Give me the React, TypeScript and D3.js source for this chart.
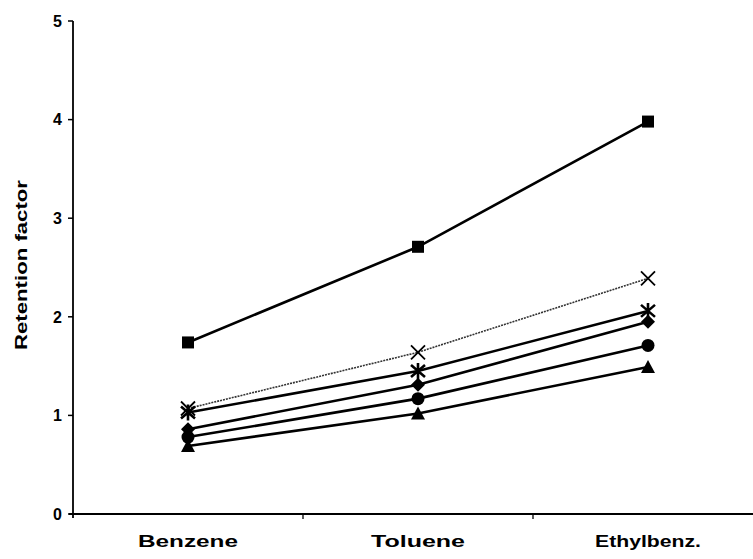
import React from "react";
import * as d3 from "d3";

const categories = ["Benzene", "Toluene", "Ethylbenz."];
const categoryLabelWidths = [100, 94, 106];
const squareSeries = [1.74, 2.71, 3.98];
const crossSeries = [1.07, 1.64, 2.39];
const asteriskSeries = [1.03, 1.45, 2.06];
const diamondSeries = [0.86, 1.31, 1.95];
const circleSeries = [0.78, 1.17, 1.71];
const triangleSeries = [0.69, 1.02, 1.49];
const yTicks = [0, 1, 2, 3, 4, 5];

type Marker = "square" | "cross" | "asterisk" | "diamond" | "circle" | "triangle";

const series: { values: number[]; marker: Marker; dotted?: boolean }[] = [
  { values: squareSeries, marker: "square" },
  { values: crossSeries, marker: "cross", dotted: true },
  { values: asteriskSeries, marker: "asterisk" },
  { values: diamondSeries, marker: "diamond" },
  { values: circleSeries, marker: "circle" },
  { values: triangleSeries, marker: "triangle" },
];

const W = 753;
const H = 559;
const left = 73;
const top = 21;
const bottom = 514;

const FONT = "'Liberation Sans', Arial, sans-serif";

function MarkerShape({ type, x, y }: { type: Marker; x: number; y: number }) {
  switch (type) {
    case "square":
      return <rect x={x - 6} y={y - 6} width={12} height={12} fill="#000" />;
    case "diamond":
      return <path d={`M${x},${y - 7}L${x + 7},${y}L${x},${y + 7}L${x - 7},${y}Z`} fill="#000" />;
    case "circle":
      return <circle cx={x} cy={y} r={6.5} fill="#000" />;
    case "triangle":
      return <path d={`M${x},${y - 7}L${x + 7},${y + 6}L${x - 7},${y + 6}Z`} fill="#000" />;
    case "cross":
      return (
        <path
          d={`M${x - 7},${y - 7}L${x + 7},${y + 7}M${x - 7},${y + 7}L${x + 7},${y - 7}`}
          stroke="#000"
          strokeWidth={1.8}
        />
      );
    case "asterisk":
      return (
        <path
          d={`M${x - 7},${y - 6}L${x + 7},${y + 6}M${x - 7},${y + 6}L${x + 7},${y - 6}M${x},${y - 8}L${x},${y + 8}`}
          stroke="#000"
          strokeWidth={2.6}
        />
      );
  }
}

export default function App() {
  const x = d3.scaleBand<string>().domain(categories).range([left, left + 690]).padding(0);
  const y = d3.scaleLinear().domain([0, 5]).range([bottom, top]);
  const cx = (c: string) => (x(c) ?? 0) + x.bandwidth() / 2;

  const line = d3
    .line<number>()
    .x((_, i) => cx(categories[i]))
    .y((v) => y(v));

  const boundaries = categories.slice(1).map((c) => x(c) ?? 0);

  return (
    <svg
      width={W}
      height={H}
      style={{ position: "absolute", left: 0, top: 0, background: "#fff" }}
    >
      <rect width={W} height={H} fill="#fff" />
      {/* y axis */}
      <line x1={left} x2={left} y1={top} y2={bottom + 4} stroke="#000" strokeWidth={1.8} />
      {yTicks.map((t) => (
        <g key={t}>
          <line x1={left - 5} x2={left} y1={y(t)} y2={y(t)} stroke="#000" strokeWidth={1.5} />
          <text
            x={left - 11}
            y={y(t)}
            dy="0.36em"
            textAnchor="end"
            fontFamily={FONT}
            fontWeight="bold"
            fontSize={16}
          >
            {t}
          </text>
        </g>
      ))}
      {/* x axis */}
      <line x1={left - 4} x2={W} y1={bottom} y2={bottom} stroke="#000" strokeWidth={1.8} />
      {boundaries.map((b, i) => (
        <line key={i} x1={b} x2={b} y1={bottom} y2={bottom + 5} stroke="#000" strokeWidth={1.3} />
      ))}
      {categories.map((c, i) => (
        <text
          key={c}
          x={cx(c) - categoryLabelWidths[i] / 2}
          y={bottom + 33}
          textLength={categoryLabelWidths[i]}
          lengthAdjust="spacingAndGlyphs"
          fontFamily={FONT}
          fontWeight="bold"
          fontSize={17}
        >
          {c}
        </text>
      ))}
      <text
        transform={`translate(27,265) rotate(-90)`}
        x={-85}
        textLength={170}
        lengthAdjust="spacingAndGlyphs"
        fontFamily={FONT}
        fontWeight="bold"
        fontSize={16}
      >
        Retention factor
      </text>
      {/* series */}
      {series.map((s, si) => (
        <g key={si}>
          <path
            d={line(s.values) ?? ""}
            fill="none"
            stroke={s.dotted ? "#333" : "#000"}
            strokeWidth={s.dotted ? 1.6 : 2.6}
            strokeDasharray={s.dotted ? "2,1" : undefined}
          />
          {s.values.map((v, i) => (
            <MarkerShape key={i} type={s.marker} x={cx(categories[i])} y={y(v)} />
          ))}
        </g>
      ))}
    </svg>
  );
}
